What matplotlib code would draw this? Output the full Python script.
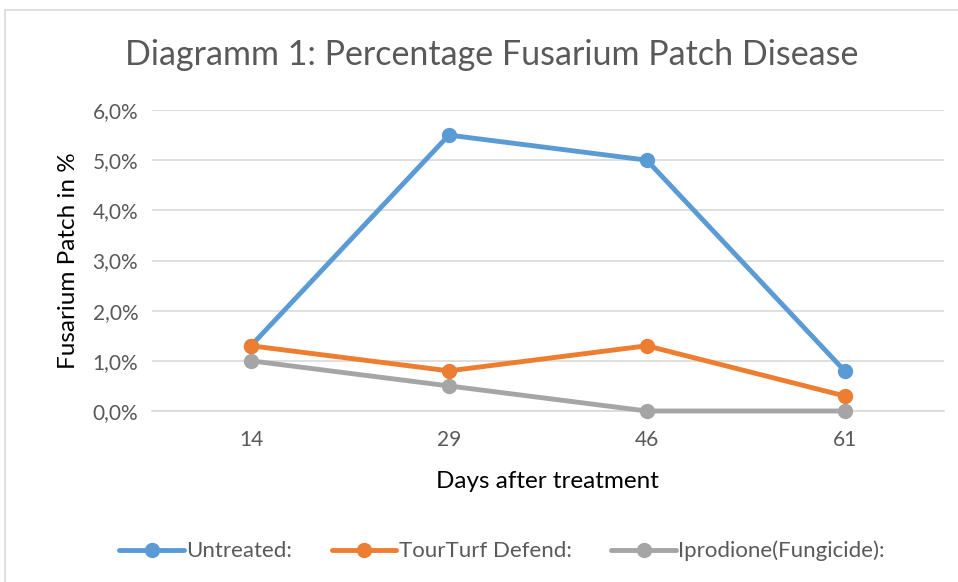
import matplotlib.pyplot as plt
from matplotlib.patches import Rectangle
from matplotlib.ticker import FuncFormatter

plt.rcParams['font.family'] = ['Lato', 'DejaVu Sans']

days = ['14', '29', '46', '61']
untreated = [1.3, 5.5, 5.0, 0.8]
tourturf = [1.3, 0.8, 1.3, 0.3]
iprodione = [1.0, 0.5, 0.0, 0.0]

series = [
    ('Untreated:', untreated, '#5B9BD5'),
    ('TourTurf Defend:', tourturf, '#ED7D31'),
    ('Iprodione(Fungicide):', iprodione, '#A5A5A5'),
]

txt = '#595959'

fig = plt.figure(figsize=(9.58, 5.82), dpi=100)
ax = fig.add_axes([0.1587, 0.2938, 0.8263, 0.5172])

# outer chart border
fig.patches.append(Rectangle((5 / 958, -0.1), 1.1, 1 - 10 / 582 + 0.1,
                             transform=fig.transFigure, fill=False,
                             edgecolor='#D9D9D9', linewidth=1.2))

x = list(range(len(days)))
for name, vals, col in series:
    ax.plot(x, vals, color=col, linewidth=3.5, marker='o', markersize=10,
            label=name, solid_capstyle='round', clip_on=False, zorder=3)

ax.set_xlim(-0.5, len(days) - 0.5)
ax.set_ylim(0, 6)
ax.set_yticks([0, 1, 2, 3, 4, 5, 6])
ax.yaxis.set_major_formatter(FuncFormatter(lambda v, p: f'{v:.1f}%'.replace('.', ',')))
ax.set_xticks(x)
ax.set_xticklabels(days)
ax.grid(axis='y', color='#D9D9D9', linewidth=1.2)
ax.set_axisbelow(True)
for s in ['top', 'right', 'left']:
    ax.spines[s].set_visible(False)
ax.spines['bottom'].set_color('#D9D9D9')
ax.spines['bottom'].set_linewidth(1.2)
ax.tick_params(length=0, colors=txt, labelsize=15)
ax.tick_params(axis='x', pad=14)
ax.tick_params(axis='y', pad=10)

ax.set_xlabel('Days after treatment', fontsize=17.5, color='#000000', labelpad=15)
ax.set_ylabel('Fusarium Patch in %', fontsize=17.5, color='#000000', labelpad=10)

fig.text(0.513, 0.905, 'Diagramm 1: Percentage Fusarium Patch Disease',
         ha='center', va='center', fontsize=24.5, color=txt)

fig.legend(loc='center', bbox_to_anchor=(0.524, 0.053), ncol=3, frameon=False,
           fontsize=16, labelcolor=txt, handlelength=2.9, columnspacing=1.8,
           handletextpad=0.1)

fig.savefig('out.png', dpi=100, facecolor='white')
